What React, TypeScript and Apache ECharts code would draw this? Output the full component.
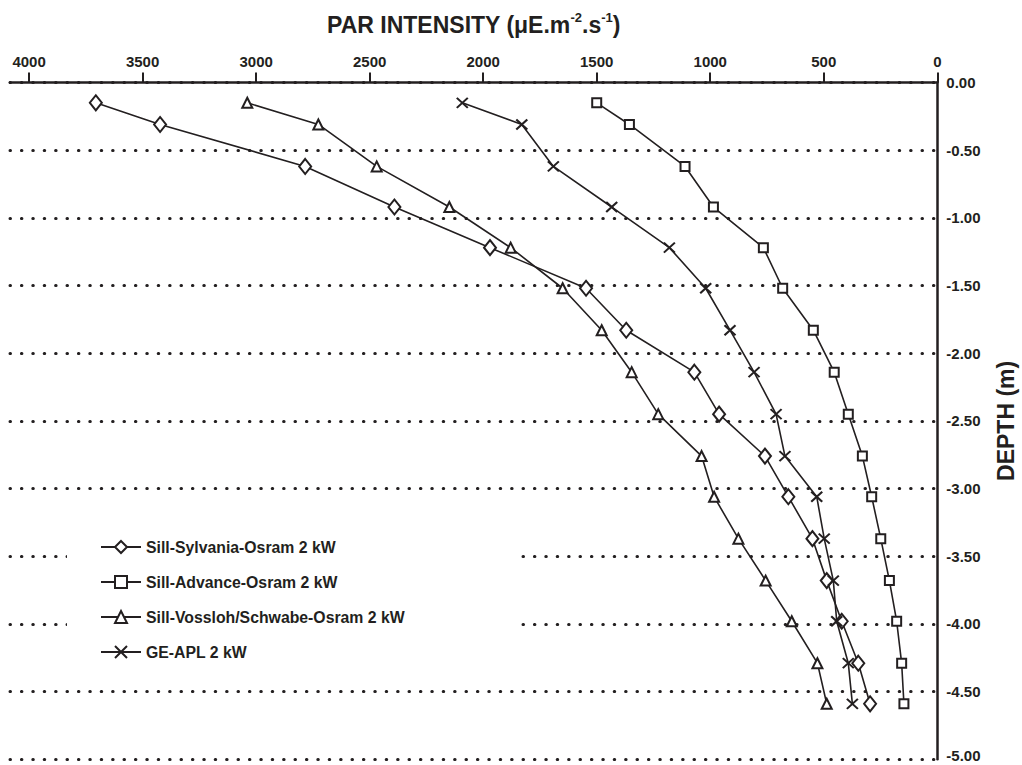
import React, { useEffect, useRef } from 'react';
import * as echarts from 'echarts';

// Depth of each measurement (m)
const depthM = [-0.15, -0.31, -0.62, -0.92, -1.22, -1.52, -1.83, -2.14, -2.45, -2.76, -3.06, -3.37, -3.68, -3.98, -4.29, -4.59];

// PAR intensity (µE.m-2.s-1) per lamp
const sylvania = [3706, 3423, 2784, 2391, 1970, 1547, 1370, 1070, 961, 759, 656, 550, 487, 421, 348, 296];
const advance = [1500, 1356, 1111, 986, 766, 681, 546, 454, 392, 330, 289, 249, 211, 179, 157, 147];
const vossloh = [3039, 2726, 2469, 2149, 1879, 1650, 1478, 1346, 1229, 1038, 983, 876, 756, 641, 528, 487];
const geApl = [2092, 1830, 1691, 1434, 1180, 1020, 913, 807, 710, 671, 531, 498, 458, 443, 392, 374];

const seriesNames = [
  'Sill-Sylvania-Osram 2 kW',
  'Sill-Advance-Osram 2 kW',
  'Sill-Vossloh/Schwabe-Osram 2 kW',
  'GE-APL 2 kW',
];

const xTickValues = [0, 500, 1000, 1500, 2000, 2500, 3000, 3500, 4000];

export default function App() {
  const ref = useRef<HTMLDivElement>(null);

  useEffect(() => {
    document.body.style.margin = '0';
    const chart = echarts.init(ref.current!, null, { renderer: 'svg' });
    const ink = '#231f20';
    const font = "'Liberation Sans', Arial, Helvetica, sans-serif";

    const mk = (name: string, vals: number[], symbol: string, size: any) => ({
      name,
      type: 'line',
      data: vals.map((v, i) => [v, depthM[i]]),
      symbol,
      symbolSize: size,
      showSymbol: true,
      lineStyle: { color: ink, width: 1.6 },
      itemStyle: { color: '#fff', borderColor: ink, borderWidth: 2 },
      emphasis: { disabled: true },
    });

    chart.setOption({
      animation: false,
      backgroundColor: '#fff',
      textStyle: { fontFamily: font },
      grid: { left: 10, right: 84.7, top: 82.5, bottom: 5.7, containLabel: false, outerBoundsMode: 'none' },
      xAxis: {
        type: 'value',
        position: 'top',
        inverse: true,
        min: 0,
        max: 4084,
        name: '{a|PAR INTENSITY (μE.m}{s|-2}{a|.s}{s|-1}{a|)}',
        nameLocation: 'middle',
        nameGap: 44,
        nameTextStyle: {
          rich: {
            a: { fontFamily: font, fontSize: 23, fontWeight: 'bold', color: ink, lineHeight: 28 },
            s: { fontFamily: font, fontSize: 13, fontWeight: 'bold', color: ink, verticalAlign: 'top' },
          },
        },
        axisLine: { show: true, lineStyle: { color: ink, width: 2.5 } },
        axisTick: { show: true, customValues: xTickValues, length: 10, lineStyle: { color: ink, width: 2 } },
        axisLabel: {
          customValues: xTickValues,
          margin: 14,
          fontFamily: font,
          fontSize: 15,
          fontWeight: 'bold',
          color: ink,
          formatter: (v: number) => String(v),
        },
        splitLine: { show: false },
      },
      yAxis: {
        type: 'value',
        position: 'right',
        min: -5,
        max: 0,
        interval: 0.5,
        name: 'DEPTH (m)',
        nameLocation: 'middle',
        nameRotate: 90,
        nameGap: 57,
        nameTextStyle: { fontFamily: font, fontSize: 23, fontWeight: 'bold', color: ink },
        axisLine: { show: true, lineStyle: { color: ink, width: 2.5 } },
        axisTick: { show: false },
        axisLabel: {
          margin: 9,
          fontFamily: font,
          fontSize: 15,
          fontWeight: 'bold',
          color: ink,
          formatter: (v: number) => (v <= -5 ? '{m|' + v.toFixed(2) + '}' : v.toFixed(2)),
          rich: {
            m: { fontFamily: font, fontSize: 15, fontWeight: 'bold', color: ink, padding: [0, 0, 8, 0] },
          },
        },
        splitLine: {
          show: true,
          lineStyle: { color: ink, width: 3, type: [0.5, 10.9], cap: 'round' },
        },
      },
      legend: {
        orient: 'vertical',
        left: 67,
        top: 525,
        padding: [14, 110, 14, 33],
        backgroundColor: '#fff',
        itemWidth: 40,
        itemHeight: 15,
        itemGap: 19,
        selectedMode: false,
        data: seriesNames,
        textStyle: { fontFamily: font, fontSize: 15.8, fontWeight: 'bold', color: ink },
      },
      series: [
        mk(seriesNames[0], sylvania, 'diamond', [12, 15]),
        mk(seriesNames[1], advance, 'rect', 9),
        mk(seriesNames[2], vossloh, 'triangle', [10, 10]),
        mk(seriesNames[3], geApl, 'path://M0,0L10,10M10,0L0,10', [11, 10]),
      ],
    });

    return () => chart.dispose();
  }, []);

  return <div ref={ref} style={{ position: 'fixed', left: 0, top: 0, width: 1022, height: 765 }} />;
}
